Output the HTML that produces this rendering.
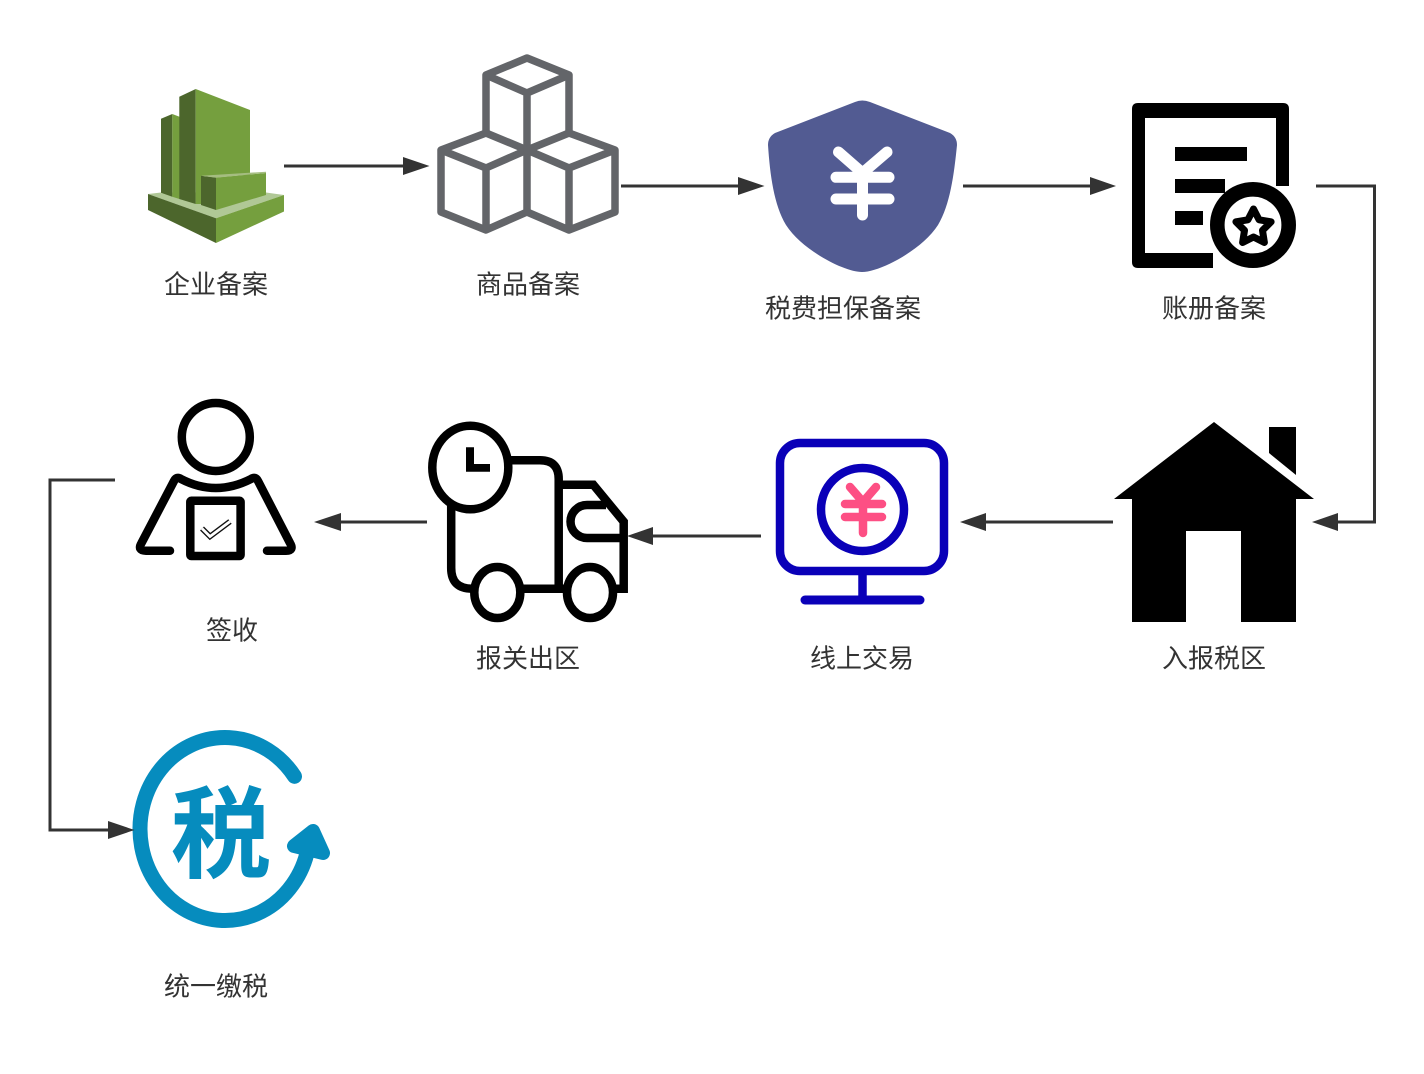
<!DOCTYPE html>
<html lang="zh"><head><meta charset="utf-8"><style>
html,body{margin:0;padding:0;background:#fff}
svg{display:block}
.l{font-family:"Liberation Sans","Noto Sans CJK SC",sans-serif;font-size:26px;fill:#333;text-anchor:middle}
</style></head><body>
<svg width="1424" height="1074" viewBox="0 0 1424 1074" xmlns="http://www.w3.org/2000/svg">
<rect width="1424" height="1074" fill="#fff"/>
<!-- building -->
<polygon points="148,194 161,192.500 266,192.500 284,195 216,218.300" fill="#b0c896"/>
<polygon points="148,194 216,218.300 216,243 148,210" fill="#4c662c"/>
<polygon points="284,195 216,218.300 216,243 284,211.500" fill="#759f3e"/>
<polygon points="161,118.700 172.300,114 172.300,196.700 161,192.700" fill="#4c662c"/>
<polygon points="172.300,114 179.500,116.700 179.500,199 172.300,196.700" fill="#759f3e"/>
<polygon points="179.300,96.700 195.700,89 195.700,204 179.300,199" fill="#4c662c"/>
<polygon points="195.700,89 250,110 250,175 201,176 201,204 195.700,204" fill="#759f3e"/>
<polygon points="201,175.700 216,177.500 216,210 201,205" fill="#4c662c"/>
<polygon points="216,177.500 266,173 266,195 216,210" fill="#759f3e"/>
<polygon points="201,175.700 266,171.700 266,173 216,177.800" fill="#a5bd80"/>
<!-- cubes -->
<g fill="none" stroke="#636569" stroke-width="7.500" stroke-linejoin="round">
<path d="M527,58 569,75 527,93 486,75Z M486,75V133 M569,75V133 M527,93V150"/>
<path d="M486,133 527,150 486,168 441,150Z M441,150V212L486,230 527,212V150 M486,168V230"/>
<path d="M569,133 527,150 569,168 615,150Z M615,150V212L569,230 527,212 M569,168V230"/>
</g>
<!-- shield -->
<path d="M855,102Q862,99 870,102L950,133Q957,137 957,145C954,175 950,205 938,225C922,250 880,272 862,272C844,272 802,250 786,225C774,205 770,175 768,145Q768,137 775,133Z" fill="#525b92"/>
<g fill="none" stroke="#fff" stroke-width="11" stroke-linecap="round" stroke-linejoin="round">
<path d="M838.500,152 862.500,173 887,152 M862.500,173V215 M836,177.300H889 M836,199H889"/>
</g>
<!-- document -->
<path d="M1138,103H1283Q1289,103 1289,109V186H1276V118H1145V253H1213V268H1138Q1132,268 1132,262V109Q1132,103 1138,103Z" fill="#000"/>
<rect x="1175" y="147" width="72" height="14" fill="#000"/>
<rect x="1175" y="179" width="50" height="14" fill="#000"/>
<rect x="1175" y="211" width="28" height="14" fill="#000"/>
<circle cx="1253" cy="225" r="35.700" fill="#fff" stroke="#000" stroke-width="14.600"/>
<polygon points="1253.500,209 1259.100,219.800 1271.100,221.800 1262.500,230.400 1264.400,242.500 1253.500,237 1242.600,242.500 1244.500,230.400 1235.900,221.800 1247.900,219.800" fill="#fff" stroke="#000" stroke-width="7" stroke-linejoin="round"/>
<!-- house -->
<path d="M1214,422 1314,499H1296V622H1241V531H1186V622H1132V499H1114Z" fill="#000"/>
<polygon points="1269,427 1296,427 1296,475 1269,453" fill="#000"/>
<!-- monitor -->
<g fill="none" stroke="#0a00b8" stroke-width="8.500">
<rect x="780" y="443" width="164" height="128" rx="20"/>
<circle cx="862.500" cy="509.500" r="41.500"/>
<path d="M862.500,575V600"/>
<path d="M805,600H920" stroke-width="9" stroke-linecap="round"/>
</g>
<g fill="none" stroke="#fd4f84" stroke-width="8.500" stroke-linecap="round" stroke-linejoin="round">
<path d="M850,487 863,502 876,487 M863,502V533 M845,504H882 M845,517H882"/>
</g>
<!-- truck -->
<g fill="none" stroke="#000" stroke-width="8.500">
<path d="M510,460.300H540Q558.700,460.300 558.700,479V588"/>
<path d="M451.200,505V568Q451.200,588.700 472,588.700H623.700V521.700L593.300,484.700H559"/>
<path d="M625,538H587A16.500,16.500 0 0 1 587,505H606"/>
<ellipse cx="470.300" cy="467.500" rx="38" ry="41.800" fill="#fff" stroke-width="8.500"/>
<ellipse cx="497.300" cy="592.500" rx="23" ry="25.500" fill="#fff"/>
<ellipse cx="590" cy="592.500" rx="23" ry="25.500" fill="#fff"/>
</g>
<path d="M624,588H627.500V592.500H620V588Z" fill="#000"/>
<path d="M466,447.300H474V464H490V471.700H466Z" fill="#000"/>
<!-- person -->
<g fill="none" stroke="#000" stroke-width="8.500" stroke-linecap="round" stroke-linejoin="round">
<circle cx="215.800" cy="437" r="34"/>
<path d="M170,550.700H146Q137,550.700 141.500,543L174,481Q176.500,476 181,479Q215.700,497 251,479Q255.500,476 258,481L290,543Q294.500,550.700 286,550.700H267"/>
<rect x="190.300" y="500.800" width="50.300" height="55.200" rx="1"/>
</g>
<path d="M202,528.500 210,536.500 230,521.500" fill="none" stroke="#111" stroke-width="5.500"/>
<path d="M202,528.500 210,536.500 230,521.500" fill="none" stroke="#fff" stroke-width="2.800"/>
<!-- tax -->
<path d="M294.500,776.300A85,91.500 0 1 0 308,848.800" fill="none" stroke="#068cbe" stroke-width="15" stroke-linecap="round"/>
<polygon points="294,846 313,831 323,853" fill="#068cbe" stroke="#068cbe" stroke-width="14" stroke-linejoin="round"/>
<text x="221" y="870" font-family="'Noto Sans CJK SC',sans-serif" font-weight="700" font-size="100" text-anchor="middle" fill="#068cbe">税</text>
<!-- connectors -->
<g fill="none" stroke="#333" stroke-width="3">
<path d="M284,166H405"/>
<path d="M621,186H740"/>
<path d="M963,186H1092"/>
<path d="M1316,186H1374.500V522H1336"/>
<path d="M1113,522H984"/>
<path d="M761,536H650"/>
<path d="M427,522H340"/>
<path d="M115,480H50V830H110"/>
</g>
<g fill="#333">
<polygon points="429.500,166 403,157 403,175"/>
<polygon points="764.500,186 738,177 738,195"/>
<polygon points="1116,186 1090,177 1090,195"/>
<polygon points="1312,522 1338,513 1338,531"/>
<polygon points="960,522 986,513 986,531"/>
<polygon points="627,536 653,527 653,545"/>
<polygon points="314,522 341,513 341,531"/>
<polygon points="134.500,830 108,821 108,839"/>
</g>
<!-- labels -->
<text class="l" x="216" y="293.700">企业备案</text>
<text class="l" x="528" y="293.700">商品备案</text>
<text class="l" x="843" y="317.700">税费担保备案</text>
<text class="l" x="1214" y="317.700">账册备案</text>
<text class="l" x="1214" y="667.700">入报税区</text>
<text class="l" x="862" y="667.700">线上交易</text>
<text class="l" x="528" y="667.700">报关出区</text>
<text class="l" x="232" y="639.700">签收</text>
<text class="l" x="216" y="995.700">统一缴税</text>
</svg>
</body></html>
